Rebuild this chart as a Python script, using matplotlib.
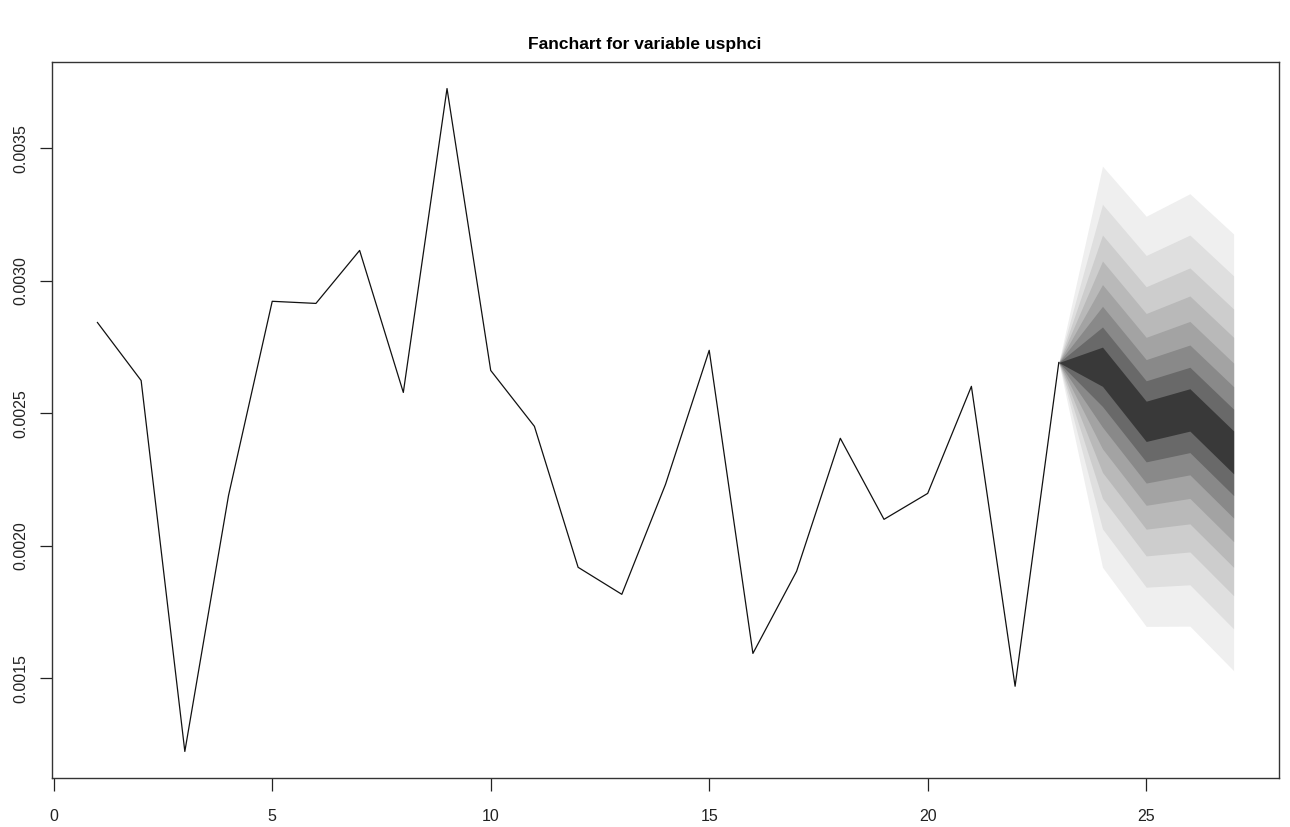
import matplotlib
matplotlib.use('Agg')
import matplotlib.pyplot as plt
import numpy as np

# observed series (t = 1..23)
t_obs = list(range(1, 24))
usphci = [0.002843, 0.002624, 0.001224, 0.002190, 0.002923, 0.002915, 0.003115,
          0.002579, 0.003726, 0.002662, 0.002451, 0.001919, 0.001817, 0.002232,
          0.002738, 0.001594, 0.001904, 0.002406, 0.002100, 0.002198, 0.002602,
          0.001470, 0.002692]

# forecast horizon
t_fc = [24, 25, 26, 27]
ci_levels = [0.1, 0.2, 0.3, 0.4, 0.5, 0.6, 0.7, 0.8, 0.9]

# upper / lower bounds for each ci level
upper = [
    [0.002750, 0.002546, 0.002593, 0.002434],
    [0.002826, 0.002623, 0.002674, 0.002516],
    [0.002904, 0.002703, 0.002758, 0.002601],
    [0.002986, 0.002787, 0.002847, 0.002690],
    [0.003075, 0.002877, 0.002943, 0.002787],
    [0.003173, 0.002978, 0.003049, 0.002894],
    [0.003289, 0.003096, 0.003173, 0.003019],
    [0.003433, 0.003244, 0.003329, 0.003177],
    [0.003648, 0.003464, 0.003561, 0.003411],
]
lower = [
    [0.002602, 0.002394, 0.002433, 0.002272],
    [0.002526, 0.002317, 0.002352, 0.002190],
    [0.002448, 0.002237, 0.002268, 0.002105],
    [0.002366, 0.002153, 0.002179, 0.002016],
    [0.002277, 0.002063, 0.002083, 0.001919],
    [0.002179, 0.001962, 0.001977, 0.001812],
    [0.002064, 0.001844, 0.001853, 0.001687],
    [0.001919, 0.001696, 0.001697, 0.001529],
    [0.001704, 0.001477, 0.001465, 0.001295],
]

x_ticks = [0, 5, 10, 15, 20, 25]
y_ticks = [0.0015, 0.0020, 0.0025, 0.0030, 0.0035]

plt.rcParams['font.family'] = ['Liberation Sans', 'DejaVu Sans']

fig = plt.figure(figsize=(12.9, 8.27), dpi=100)
ax = fig.add_axes([0.0403, 0.0593, 0.9512, 0.8657])

# gray levels like R's fanchart default
greys = np.sqrt(np.linspace(0.05, 1, len(ci_levels)))

xs = [t_obs[-1]] + t_fc
# widest band first, darker ones on top
for j in range(len(ci_levels) - 1, -1, -1):
    up = [usphci[-1]] + upper[j]
    lo = [usphci[-1]] + lower[j]
    ax.fill_between(xs, lo, up, color=str(greys[j]), linewidth=0)

ax.plot(t_obs, usphci, color='#111111', linewidth=0.9)

ax.margins(x=0.04, y=0.04)
ax.set_xticks(x_ticks)
ax.set_xticklabels([str(v) for v in x_ticks])
ax.set_yticks(y_ticks)
ax.set_yticklabels(['%.4f' % v for v in y_ticks], rotation=90, va='center')
ax.tick_params(direction='out', length=9, width=0.9, labelsize=11.5,
               colors='#222222')
ax.tick_params(axis='x', pad=13)
ax.tick_params(axis='y', pad=8)
for s in ax.spines.values():
    s.set_linewidth(1.0)
    s.set_color('#333333')

fig.text(0.5, 0.946, 'Fanchart for variable usphci', fontsize=12.5,
         fontweight='bold', ha='center', va='center')

fig.savefig('out.png', dpi=100)
